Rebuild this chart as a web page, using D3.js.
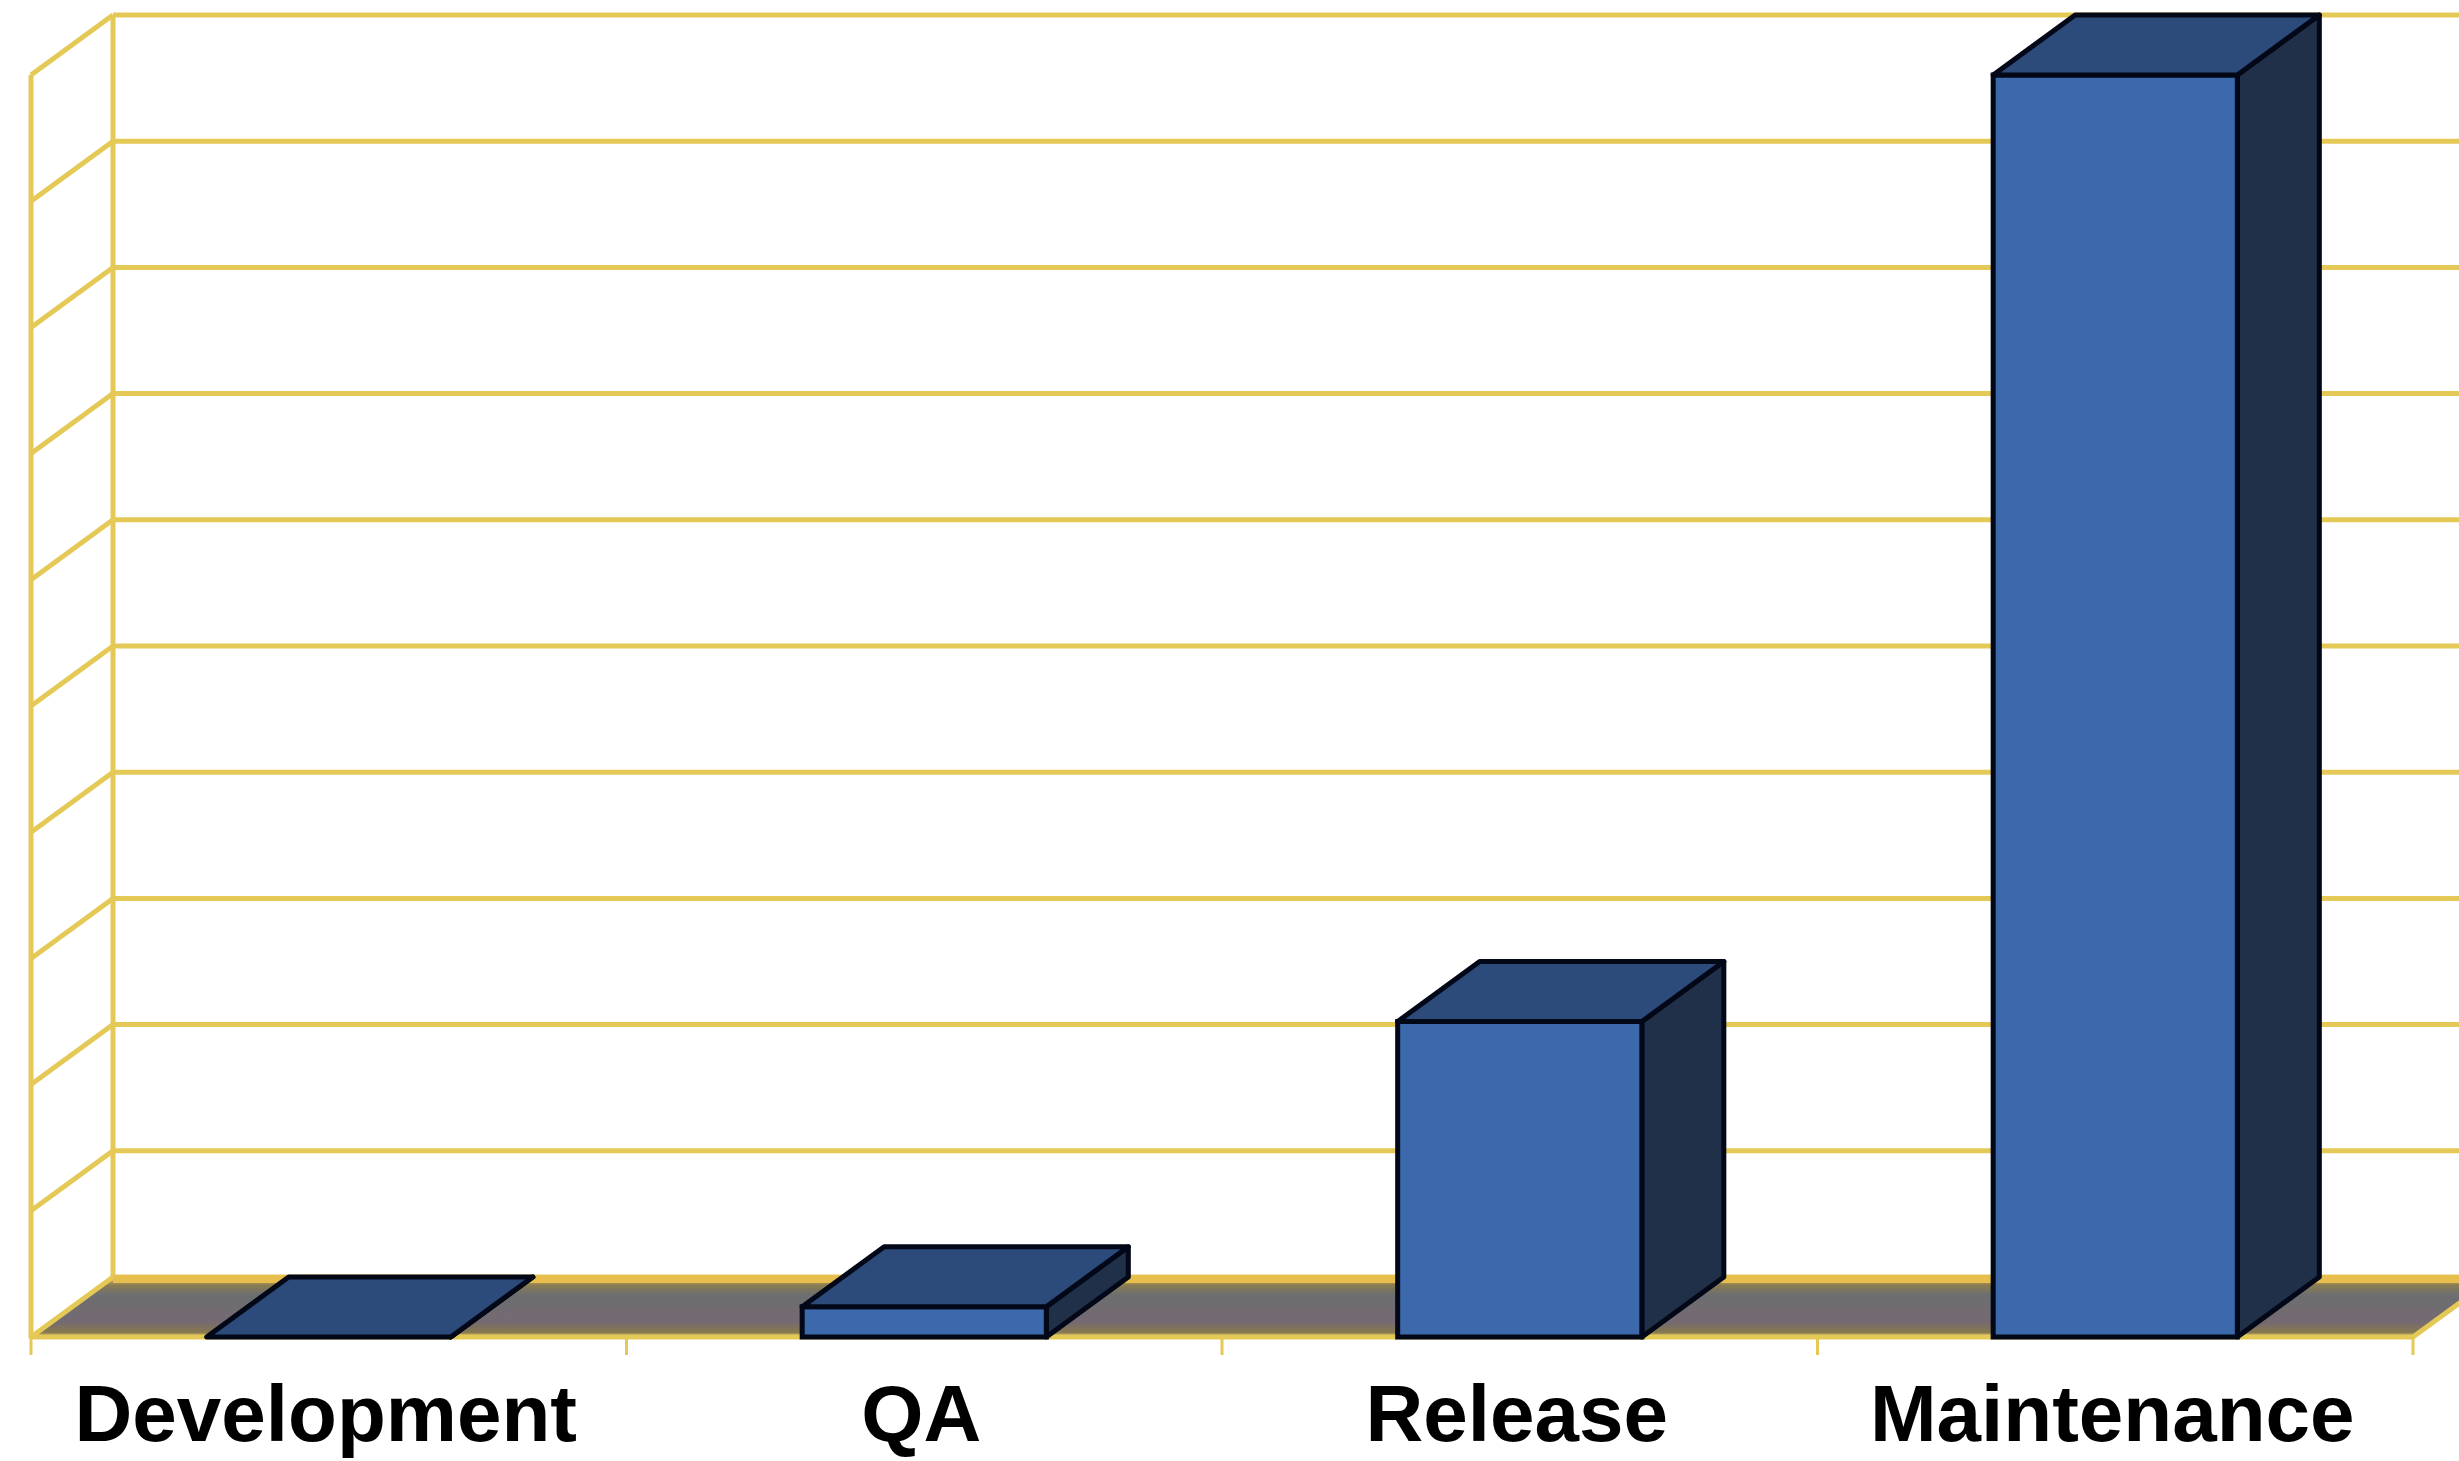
<!DOCTYPE html>
<html>
<head>
<meta charset="utf-8">
<script src="https://cdn.jsdelivr.net/npm/d3@7"></script>
<style>
  html, body { margin: 0; padding: 0; background: #ffffff; overflow: hidden; }
  svg { display: block; }
</style>
</head>
<body>
<svg id="chart" width="2459" height="1461"></svg>
<script>
// ---- data ----
const categories = ["Development", "QA", "Release", "Maintenance"];
const values = [0, 2.4, 25, 100];
const gridTicks = [0, 10, 20, 30, 40, 50, 60, 70, 80, 90, 100];

// ---- layout ----
const W = 2459, H = 1461;
const frontLeft = 31, frontRight = 2413;
const floorFrontY = 1337, topFrontY = 75;
const DX = 82, DY = -60;   // depth offset of the 3D box

const svg = d3.select("#chart");

const x = d3.scaleBand()
  .domain(categories)
  .range([frontLeft, frontRight])
  .paddingInner(0.59)
  .paddingOuter(0.295);

const y = d3.scaleLinear().domain([0, 100]).range([floorFrontY, topFrontY]);

const gridColor = "#e5c957";
const gridW = 5;

// ---- walls & gridlines ----
const walls = svg.append("g");

walls.selectAll("line.back")
  .data(gridTicks.filter(t => t > 0))
  .join("line")
  .attr("x1", frontLeft + DX).attr("x2", W + 10)
  .attr("y1", d => y(d) + DY).attr("y2", d => y(d) + DY)
  .attr("stroke", gridColor).attr("stroke-width", gridW);

walls.selectAll("line.side")
  .data(gridTicks.filter(t => t > 0))
  .join("line")
  .attr("x1", frontLeft).attr("y1", d => y(d))
  .attr("x2", frontLeft + DX).attr("y2", d => y(d) + DY)
  .attr("stroke", gridColor).attr("stroke-width", gridW);

walls.append("line")
  .attr("x1", frontLeft).attr("x2", frontLeft)
  .attr("y1", y(0)).attr("y2", y(100))
  .attr("stroke", gridColor).attr("stroke-width", gridW);
walls.append("line")
  .attr("x1", frontLeft + DX).attr("x2", frontLeft + DX)
  .attr("y1", y(0) + DY).attr("y2", y(100) + DY)
  .attr("stroke", gridColor).attr("stroke-width", gridW);

// ---- floor ----
const floorPts = [
  [frontLeft, y(0)], [frontRight, y(0)],
  [frontRight + DX, y(0) + DY], [frontLeft + DX, y(0) + DY]
];
const defs = svg.append("defs");
const fg = defs.append("linearGradient").attr("id", "floorGrad")
  .attr("x1", 0).attr("y1", 0).attr("x2", 0).attr("y2", 1);
fg.append("stop").attr("offset", "0%").attr("stop-color", "#e6ba4c");
fg.append("stop").attr("offset", "14%").attr("stop-color", "#8a7c52");
fg.append("stop").attr("offset", "30%").attr("stop-color", "#6c6e70");
fg.append("stop").attr("offset", "75%").attr("stop-color", "#756a72");
fg.append("stop").attr("offset", "92%").attr("stop-color", "#86784e");
fg.append("stop").attr("offset", "100%").attr("stop-color", "#dcc46c");

svg.append("polygon")
  .attr("points", floorPts.map(p => p.join(",")).join(" "))
  .attr("fill", "url(#floorGrad)")
  .attr("stroke", gridColor).attr("stroke-width", gridW)
  .attr("stroke-linejoin", "round");

// back edge of floor (thicker gold line)
svg.append("line")
  .attr("x1", frontLeft + DX).attr("x2", frontRight + DX)
  .attr("y1", y(0) + DY + 2).attr("y2", y(0) + DY + 2)
  .attr("stroke", "#e8bf4e").attr("stroke-width", 8);

// tick marks at category boundaries
const step = x.step();
const bounds = d3.range(categories.length + 1).map(i => frontLeft + i * step);
svg.selectAll("line.tick")
  .data(bounds)
  .join("line")
  .attr("x1", d => d).attr("x2", d => d)
  .attr("y1", y(0)).attr("y2", y(0) + 18)
  .attr("stroke", gridColor).attr("stroke-width", 3);

// ---- bars ----
const frontColor = "#3c69ab";
const topColor = "#2c4a7a";
const sideColor = "#1f3048";
const edge = "#030818";
const edgeW = 5;

const bars = svg.append("g").selectAll("g")
  .data(categories.map((c, i) => ({ c, v: values[i] })))
  .join("g");

bars.append("polygon")
  .attr("points", d => {
    const x1 = x(d.c) + x.bandwidth();
    return [[x1, y(0)], [x1 + DX, y(0) + DY], [x1 + DX, y(d.v) + DY], [x1, y(d.v)]]
      .map(p => p.join(",")).join(" ");
  })
  .attr("fill", sideColor).attr("stroke", edge).attr("stroke-width", edgeW)
  .attr("stroke-linejoin", "round");

bars.append("rect")
  .attr("x", d => x(d.c))
  .attr("y", d => y(d.v))
  .attr("width", x.bandwidth())
  .attr("height", d => y(0) - y(d.v))
  .attr("fill", frontColor).attr("stroke", edge).attr("stroke-width", edgeW);

bars.append("polygon")
  .attr("points", d => {
    const x0 = x(d.c), x1 = x0 + x.bandwidth(), yt = y(d.v);
    return [[x0, yt], [x1, yt], [x1 + DX, yt + DY], [x0 + DX, yt + DY]]
      .map(p => p.join(",")).join(" ");
  })
  .attr("fill", topColor).attr("stroke", edge).attr("stroke-width", edgeW)
  .attr("stroke-linejoin", "round");

// ---- category labels ----
svg.selectAll("text.cat")
  .data(categories)
  .join("text")
  .attr("x", d => x(d) + x.bandwidth() / 2 - 3)
  .attr("y", 1441)
  .attr("text-anchor", "middle")
  .attr("font-family", "'Liberation Sans', Arial, sans-serif")
  .attr("font-weight", "bold")
  .attr("font-size", 80)
  .attr("fill", "#000")
  .text(d => d);
</script>
</body>
</html>
